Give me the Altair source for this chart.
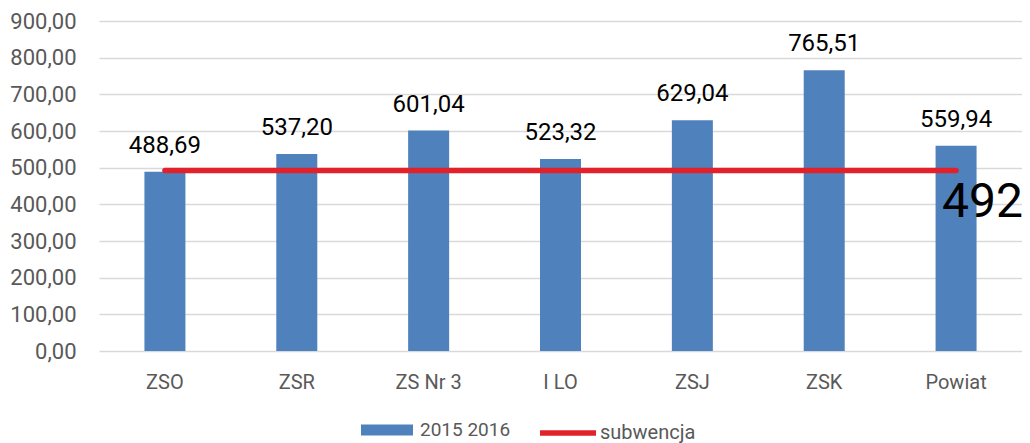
import altair as alt
import pandas as pd

categories = ["ZSO", "ZSR", "ZS Nr 3", "I LO", "ZSJ", "ZSK", "Powiat"]
values_2015_2016 = [488.69, 537.20, 601.04, 523.32, 629.04, 765.51, 559.94]
subwencja = [492, 492, 492, 492, 492, 492, 492]
y_ticks = [0, 100, 200, 300, 400, 500, 600, 700, 800, 900]

bars_df = pd.DataFrame({"kat": categories, "wartosc": values_2015_2016, "seria": "2015 2016"})
line_df = pd.DataFrame({"kat": categories, "wartosc": subwencja, "seria": "subwencja"})

FONT = "Roboto"
GRAY = "#595959"

x = alt.X(
    "kat:N", sort=categories,
    scale=alt.Scale(paddingInner=0, paddingOuter=0),
    axis=alt.Axis(title=None, labelAngle=0, domain=False, ticks=False, grid=False,
                  labelFont=FONT, labelFontSize=20, labelColor=GRAY, labelPadding=21),
)
y = alt.Y(
    "wartosc:Q",
    scale=alt.Scale(domain=[0, 900], nice=False),
    axis=alt.Axis(title=None, values=y_ticks,
                  labelExpr="replace(format(datum.value, '.2f'), '.', ',')",
                  domain=False, ticks=False, grid=True, gridColor="#D9D9D9", gridWidth=1.5,
                  labelFont=FONT, labelFontSize=22, labelColor=GRAY, labelPadding=23),
)

bars = alt.Chart(bars_df).mark_bar(size=41).encode(
    x=x, y=y,
    color=alt.Color("seria:N", scale=alt.Scale(domain=["2015 2016"], range=["#4F81BD"]),
                    legend=alt.Legend(title=None, orient="none", legendX=262, legendY=383,
                                      symbolType="M-1,-0.21H1V0.21H-1Z", symbolSize=2704,
                                      symbolStrokeWidth=0, padding=0,
                                      labelFont=FONT, labelFontSize=19, labelColor=GRAY,
                                      labelOffset=7)),
)

bar_labels = alt.Chart(bars_df).transform_calculate(
    lab="replace(format(datum.wartosc, '.2f'), '.', ',')"
).mark_text(dy=-19, baseline="alphabetic", fontSize=24, font=FONT, color="black").encode(
    x=x, y=y, text="lab:N"
)

line = alt.Chart(line_df).mark_line(strokeWidth=5.5, strokeCap="round").encode(
    x=x, y=y,
    color=alt.Color("seria:N", scale=alt.Scale(domain=["subwencja"], range=["#E2222B"]),
                    legend=alt.Legend(title=None, orient="none", legendX=438, legendY=381,
                                      symbolType="stroke", symbolSize=3136,
                                      symbolStrokeWidth=5.5, padding=0,
                                      labelFont=FONT, labelFontSize=20, labelColor=GRAY,
                                      labelOffset=1)),
)

line_label = alt.Chart(line_df).transform_filter(
    "datum.kat == 'Powiat'"
).mark_text(align="left", baseline="alphabetic", dx=-14, dy=46, fontSize=48,
            font=FONT, color="black").encode(
    x=x, y=y, text="wartosc:Q"
)

chart = alt.layer(bars, line, bar_labels, line_label).resolve_scale(
    color="independent"
).properties(
    width=923, height=330,
    autosize=alt.AutoSizeParams(type="none"),
    padding={"left": 91, "top": 13, "right": 0, "bottom": 92},
).configure_view(stroke=None)

chart.save("out.html", embed_options={"renderer": "svg", "actions": False})
